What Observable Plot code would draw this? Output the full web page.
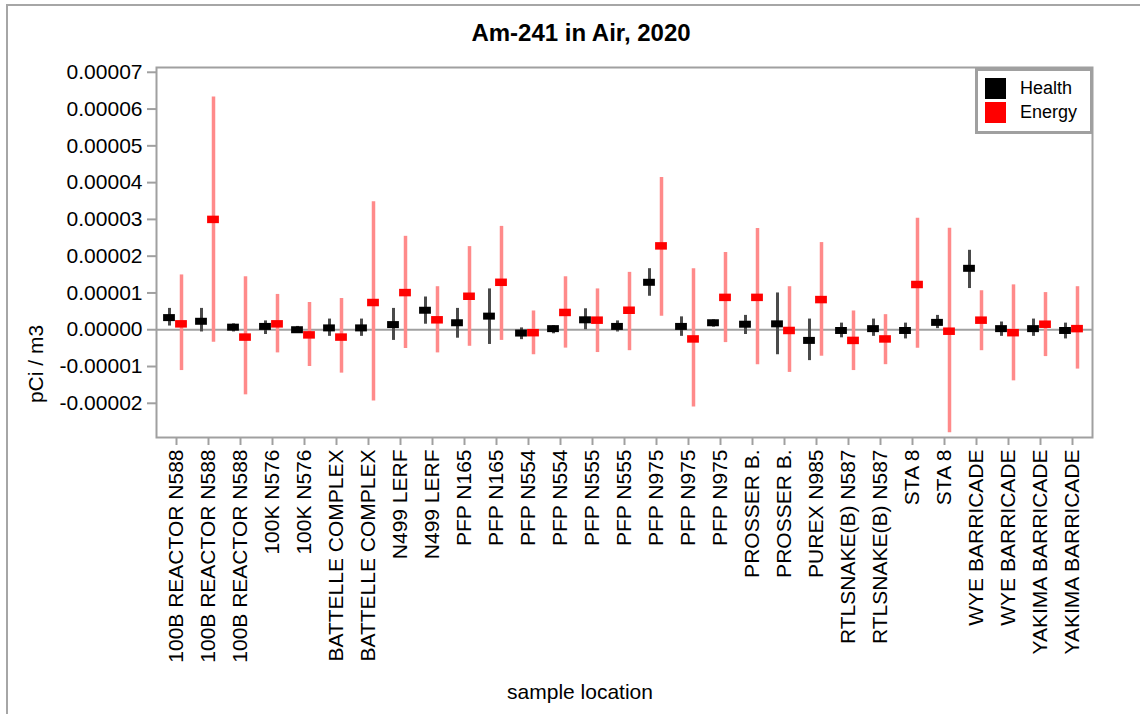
<!DOCTYPE html>
<html>
<head>
<meta charset="utf-8">
<script src="https://cdn.jsdelivr.net/npm/d3@7"></script>
<script src="https://cdn.jsdelivr.net/npm/@observablehq/plot@0.6"></script>
<style>
  html, body { margin: 0; padding: 0; background: #fff; }
  body { font-family: "Liberation Sans", Arial, sans-serif; color: #000; }
  #wrap { position: relative; width: 1140px; height: 714px; overflow: hidden; }
  #wrap svg { position: absolute; left: 0; top: 0; }
  .outer { position: absolute; left: 6px; top: 4px; width: 1200px; height: 800px; border-top: 2px solid #a6a6a6; border-left: 2px solid #a6a6a6; pointer-events: none; }
  .title { position: absolute; left: 581px; top: 21px; transform: translateX(-50%); font-size: 24px; font-weight: bold; line-height: 24px; white-space: nowrap; }
  .xlab { position: absolute; left: 580px; top: 681px; transform: translateX(-50%); font-size: 21px; line-height: 21px; white-space: nowrap; }
  .ylab { position: absolute; left: 35px; top: 364px; transform: translate(-50%, -50%) rotate(-90deg); font-size: 21px; line-height: 21px; white-space: nowrap; }
  .legend { position: absolute; left: 975px; top: 68px; width: 118px; height: 66px; box-sizing: border-box; border: 3px solid #a0a0a0; background: #fff; }
  .legend .row { position: absolute; left: 7px; height: 21px; display: flex; align-items: center; }
  .legend .sw { width: 21px; height: 21px; margin-right: 14px; }
  .legend .lt { font-size: 18px; line-height: 21px; }
  g[aria-label="y-axis tick"], g[aria-label="x-axis tick"] { stroke: #a0a0a0; stroke-width: 2px; }
</style>
</head>
<body>
<div id="wrap"></div>
<script>
// ---- data ----
const locations = [
  "100B REACTOR N588", "100B REACTOR N588", "100B REACTOR N588",
  "100K N576", "100K N576",
  "BATTELLE COMPLEX", "BATTELLE COMPLEX",
  "N499 LERF", "N499 LERF",
  "PFP N165", "PFP N165",
  "PFP N554", "PFP N554",
  "PFP N555", "PFP N555",
  "PFP N975", "PFP N975", "PFP N975",
  "PROSSER B.", "PROSSER B.",
  "PUREX N985",
  "RTLSNAKE(B) N587", "RTLSNAKE(B) N587",
  "STA 8", "STA 8",
  "WYE BARRICADE", "WYE BARRICADE",
  "YAKIMA BARRICADE", "YAKIMA BARRICADE"
];

const seriesNames = ["Health", "Energy"];
const seriesColors = ["#000000", "#ff0000"];
const barColors = ["#4a4a4a", "#ff8a8a"];

const healthValue = [3.3e-6, 2.3e-6, 0.7e-6, 0.9e-6, 0.0, 0.5e-6, 0.5e-6, 1.4e-6, 5.3e-6, 1.9e-6,
  3.7e-6, -0.9e-6, 0.3e-6, 2.7e-6, 0.9e-6, 12.9e-6, 0.9e-6, 1.9e-6, 1.5e-6, 1.6e-6,
  -2.9e-6, -0.2e-6, 0.3e-6, -0.2e-6, 2.0e-6, 16.7e-6, 0.3e-6, 0.3e-6, -0.2e-6];
const healthLow = [1.0e-6, -0.6e-6, -0.6e-6, -1.3e-6, -0.9e-6, -1.8e-6, -1.8e-6, -2.9e-6, 1.5e-6, -2.3e-6,
  -4.0e-6, -2.7e-6, -1.1e-6, 0.0, -0.6e-6, 9.1e-6, -1.8e-6, 0.7e-6, -1.3e-6, -6.8e-6,
  -8.4e-6, -2.2e-6, -1.8e-6, -2.5e-6, 0.3e-6, 11.2e-6, -1.8e-6, -1.8e-6, -2.5e-6];
const healthHigh = [5.8e-6, 5.8e-6, 1.6e-6, 2.4e-6, 0.9e-6, 2.9e-6, 2.9e-6, 5.8e-6, 8.9e-6, 5.8e-6,
  11.1e-6, 0.5e-6, 1.1e-6, 5.7e-6, 2.4e-6, 16.6e-6, 3.5e-6, 2.7e-6, 3.9e-6, 10.0e-6,
  2.9e-6, 1.8e-6, 2.9e-6, 1.8e-6, 3.9e-6, 21.6e-6, 2.1e-6, 2.9e-6, 1.8e-6];

const energyValue = [1.6e-6, 30.0e-6, -2.0e-6, 1.6e-6, -1.4e-6, -2.0e-6, 7.4e-6, 10.1e-6, 2.7e-6, 9.1e-6,
  12.9e-6, -0.8e-6, 4.7e-6, 2.6e-6, 5.3e-6, 22.8e-6, -2.5e-6, 8.8e-6, 8.8e-6, -0.2e-6,
  8.2e-6, -2.9e-6, -2.5e-6, 12.3e-6, -0.4e-6, 2.6e-6, -0.8e-6, 1.5e-6, 0.3e-6];
const energyLow = [-11.1e-6, -3.4e-6, -17.7e-6, -6.3e-6, -10.0e-6, -11.8e-6, -19.4e-6, -5.1e-6, -6.3e-6, -4.5e-6,
  -2.9e-6, -6.8e-6, -5.0e-6, -6.2e-6, -5.7e-6, 3.7e-6, -21.0e-6, -3.5e-6, -9.5e-6, -11.6e-6,
  -7.2e-6, -11.1e-6, -9.5e-6, -5.0e-6, -28.0e-6, -5.7e-6, -13.9e-6, -7.3e-6, -10.7e-6];
const energyHigh = [14.9e-6, 63.3e-6, 14.4e-6, 9.6e-6, 7.4e-6, 8.5e-6, 34.8e-6, 25.4e-6, 11.7e-6, 22.6e-6,
  28.1e-6, 5.1e-6, 14.4e-6, 11.1e-6, 15.6e-6, 41.4e-6, 16.6e-6, 21.0e-6, 27.5e-6, 11.7e-6,
  23.7e-6, 5.1e-6, 4.1e-6, 30.3e-6, 27.6e-6, 10.6e-6, 12.2e-6, 10.1e-6, 11.7e-6];

const yTicks = [-0.00002, -0.00001, 0, 0.00001, 0.00002, 0.00003, 0.00004, 0.00005, 0.00006, 0.00007];
const yDomain = [-0.0000293, 0.0000713];

const titleText = "Am-241 in Air, 2020";
const xLabelText = "sample location";
const yLabelText = "pCi / m3";

// ---- tables ----
const idx = locations.map((_, i) => i);
const health = idx.map(i => ({i, v: healthValue[i], lo: healthLow[i], hi: healthHigh[i]}));
const energy = idx.map(i => ({i, v: energyValue[i], lo: energyLow[i], hi: energyHigh[i]}));

const chart = Plot.plot({
  width: 1140,
  height: 714,
  marginLeft: 156,
  marginRight: 48,
  marginTop: 67,
  marginBottom: 277,
  style: {fontFamily: "'Liberation Sans', Arial, sans-serif", fontSize: "21px", color: "#000", background: "transparent", overflow: "visible"},
  x: {type: "band", domain: idx, padding: 0, label: null},
  y: {domain: yDomain, label: null},
  marks: [
    Plot.ruleY([0], {stroke: "#a0a0a0", strokeWidth: 2}),
    Plot.axisY({ticks: yTicks, tickSize: 9, tickPadding: 5, tickFormat: d => d.toFixed(5), label: null}),
    Plot.axisX({tickSize: 8, tickPadding: 4, tickRotate: -90, tickFormat: i => locations[i], label: null}),
    Plot.ruleX(health, {x: "i", y1: "lo", y2: "hi", stroke: barColors[0], strokeWidth: 3, dx: -7}),
    Plot.tickY(health, {x: "i", y: "v", stroke: seriesColors[0], strokeWidth: 7, insetLeft: 3.1, insetRight: 17.1}),
    Plot.ruleX(energy, {x: "i", y1: "lo", y2: "hi", stroke: barColors[1], strokeWidth: 3.5, dx: 5}),
    Plot.tickY(energy, {x: "i", y: "v", stroke: seriesColors[1], strokeWidth: 7.5, insetLeft: 15.1, insetRight: 5.1}),
    Plot.frame({stroke: "#a0a0a0", strokeWidth: 2})
  ]
});

const wrap = document.getElementById("wrap");
wrap.appendChild(chart);

function addDiv(cls, text) {
  const d = document.createElement("div");
  d.className = cls;
  if (text != null) d.textContent = text;
  wrap.appendChild(d);
  return d;
}
addDiv("outer");
addDiv("title", titleText);
addDiv("xlab", xLabelText);
addDiv("ylab", yLabelText);
const lg = addDiv("legend");
seriesNames.forEach((name, k) => {
  const row = document.createElement("div");
  row.className = "row";
  row.style.top = (7 + k * 24) + "px";
  const sw = document.createElement("div");
  sw.className = "sw";
  sw.style.background = seriesColors[k];
  const lt = document.createElement("span");
  lt.className = "lt";
  lt.textContent = name;
  row.appendChild(sw);
  row.appendChild(lt);
  lg.appendChild(row);
});
</script>
</body>
</html>
